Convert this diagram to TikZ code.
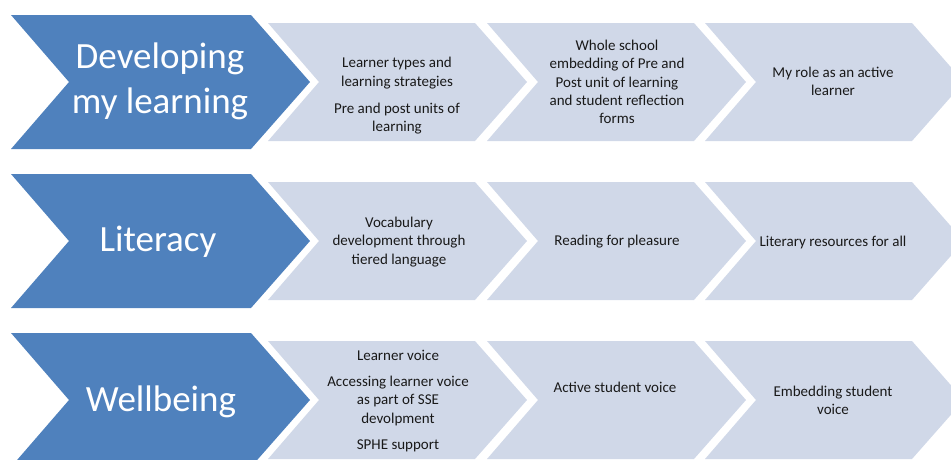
\documentclass[tikz,border=0pt]{standalone}
\usepackage{fontspec}
\setmainfont{Carlito}
\usepackage{xcolor}
\usepackage{tikz}

\definecolor{headblue}{RGB}{79,129,189}
\definecolor{itemblue}{RGB}{208,216,232}

\begin{document}
\begin{tikzpicture}[
    x=1pt, y=-1pt,
    head/.style={text=white, align=center, font=\fontsize{37}{45}\selectfont},
    item/.style={text=black!90, align=center, font=\fontsize{15}{18.3}\selectfont}
]
    \useasboundingbox (0,0) rectangle (951,459);
    \clip (0,0) rectangle (951,459);

    % Chevron rows
    \foreach \y in {82, 241, 400} {
        % heading chevron
        \fill[headblue] (11,\y-67) -- (251,\y-67) -- (310,\y)
            -- (251,\y+67) -- (11,\y+67) -- (69,\y) -- cycle;
        % step chevrons
        \foreach \x in {268, 487, 705} {
            \fill[itemblue] (\x,\y-59) -- (\x+207,\y-59) -- (\x+259,\y)
                -- (\x+207,\y+59) -- (\x,\y+59) -- (\x+51,\y) -- cycle;
        }
    }

    % Headings
    \node[head] (develop) at (160,81) {Developing\\my learning};
    \node[head] (literacy) at (158,242) {Literacy};
    \node[head] (wellbeing) at (161,402) {Wellbeing};

    % Developing my learning
    \node[item] (learnertypes) at (397,96) {Learner types and\\learning strategies\\[9pt]Pre and post units of\\learning};
    \node[item] (wholeschool) at (617,82) {Whole school\\embedding of Pre and\\Post unit of learning\\and student reflection\\forms};
    \node[item] (activerole) at (833,81) {My role as an active\\learner};

    % Literacy
    \node[item] (vocab) at (399,242) {Vocabulary\\development through\\tiered language};
    \node[item] (reading) at (617,242) {Reading for pleasure};
    \node[item] (resources) at (833,242) {Literary resources for all};

    % Wellbeing
    \node[item] (learnervoice) at (398,401) {Learner voice\\[8pt]Accessing learner voice\\as part of SSE\\devolpment\\[8pt]SPHE support};
    \node[item] (activevoice) at (615,387) {Active student voice};
    \node[item] (embedding) at (833,400) {Embedding student\\voice};
\end{tikzpicture}
\end{document}
